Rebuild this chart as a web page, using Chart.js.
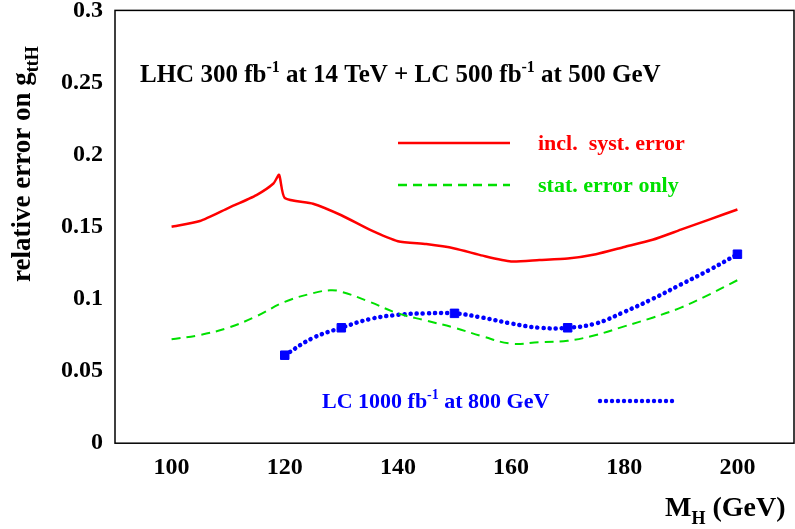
<!DOCTYPE html>
<html><head><meta charset="utf-8">
<script src="https://cdn.jsdelivr.net/npm/chart.js@4/dist/chart.umd.min.js"></script>
<style>body{margin:0;background:#fff;overflow:hidden}#wrap{width:801px;height:545px;margin-top:-16px}</style>
</head><body><div id="wrap"><canvas id="c"></canvas></div>
<script>
const systX = [100,105,110,115,118,119,120,125,130,135,140,145,150,155,160,165,170,175,180,185,190,195,200];
const systY = [0.150,0.154,0.163,0.172,0.180,0.186,0.170,0.166,0.158,0.148,0.140,0.138,0.135,0.130,0.126,0.127,0.128,0.131,0.136,0.141,0.148,0.155,0.162];
const statX = [100,105,110,115,120,125,128,130,135,140,145,150,155,160,165,170,175,180,185,190,195,200];
const statY = [0.072,0.075,0.080,0.088,0.098,0.104,0.106,0.105,0.098,0.090,0.085,0.080,0.074,0.069,0.070,0.071,0.075,0.081,0.087,0.094,0.103,0.113];
const lcX = [120,125,130,135,140,145,150,155,160,165,170,175,180,185,190,195,200];
const lcY = [0.061,0.073,0.080,0.086,0.089,0.090,0.090,0.087,0.083,0.080,0.080,0.083,0.091,0.100,0.110,0.120,0.131];
const markX = [120,130,150,170,200];
const markY = [0.061,0.080,0.090,0.080,0.131];
const xTicks = [100,120,140,160,180,200];
const yTicks = [0,0.05,0.1,0.15,0.2,0.25,0.3];
const pts = (xs, ys) => xs.map((x, i) => ({x, y: ys[i]}));
const F = '"Liberation Serif", serif';

function rich(c, parts, x, y, size) {
  for (const [t, k] of parts) {
    const s = k === 'n' ? size : Math.round(size * 0.65);
    const dy = k === 'sup' ? -size * 0.42 : k === 'sub' ? size * 0.3 : 0;
    c.font = 'bold ' + s + 'px ' + F;
    c.fillText(t, x, y + dy);
    x += c.measureText(t).width;
  }
}

const deco = {
  id: 'deco',
  afterDraw(ch) {
    const c = ch.ctx, a = ch.chartArea;
    c.save();
    c.strokeStyle = '#000'; c.lineWidth = 1.5;
    c.strokeRect(a.left, a.top, a.right - a.left, a.bottom - a.top);
    c.translate(0, 16); // page coordinates below
    c.textBaseline = 'alphabetic'; c.textAlign = 'left';
    c.fillStyle = '#000';
    rich(c, [['LHC 300 fb','n'],['-1','sup'],[' at 14 TeV + LC 500 fb','n'],['-1','sup'],[' at 500 GeV','n']], 140, 82, 25);
    c.lineWidth = 2.5;
    c.strokeStyle = '#ff0000'; c.beginPath(); c.moveTo(398, 143); c.lineTo(510, 143); c.stroke();
    c.strokeStyle = '#00e000'; c.setLineDash([9, 6]); c.beginPath(); c.moveTo(398, 185); c.lineTo(510, 185); c.stroke();
    c.setLineDash([]);
    c.fillStyle = '#0000ff';
    for (let px = 600; px <= 676; px += 6) { c.beginPath(); c.arc(px, 401, 2.2, 0, 7); c.fill(); }
    c.fillStyle = '#ff0000'; rich(c, [['incl.  syst. error','n']], 538, 150, 22);
    c.fillStyle = '#00e000'; rich(c, [['stat. error only','n']], 538, 192, 22);
    c.fillStyle = '#0000ff';
    rich(c, [['LC 1000 fb','n'],['-1','sup'],[' at 800 GeV','n']], 322, 408, 22);
    c.fillStyle = '#000';
    rich(c, [['M','n'],['H','sub'],[' (GeV)','n']], 665, 516, 28);
    c.translate(30, 282); c.rotate(-Math.PI / 2);
    rich(c, [['relative error on g','n'],['ttH','sub']], 0, 0, 27);
    c.restore();
  }
};

new Chart(document.getElementById('c'), {
  type: 'scatter',
  data: { datasets: [
    { data: pts(systX, systY), showLine: true, borderColor: '#ff0000', borderWidth: 2.5, pointRadius: 0, tension: 0.2 },
    { data: pts(statX, statY), showLine: true, borderColor: '#00e000', borderWidth: 2, borderDash: [9, 6], pointRadius: 0, tension: 0.4 },
    { data: pts(lcX, lcY), showLine: true, borderColor: '#0000ff', borderWidth: 4.5, borderDash: [0.1, 6], borderCapStyle: 'round', pointRadius: 0, tension: 0.4 },
    { data: pts(markX, markY), showLine: false, pointStyle: 'rect', pointRadius: 6, backgroundColor: '#0000ff', borderColor: '#0000ff' }
  ]},
  options: {
    responsive: true, maintainAspectRatio: false, animation: false,
    layout: { padding: { left: 0, right: 0, top: 0, bottom: 37 } },
    plugins: { legend: { display: false }, tooltip: { enabled: false } },
    scales: {
      x: { min: 90, max: 210, afterBuildTicks: s => { s.ticks = xTicks.map(v => ({value: v})); },
           grid: { display: false, drawTicks: false }, border: { display: false },
           ticks: { color: '#000', font: { family: F, size: 24, weight: 'bold' }, padding: 10 } },
      y: { min: 0, max: 0.3, afterBuildTicks: s => { s.ticks = yTicks.map(v => ({value: v})); },
           afterFit: s => { s.width = 115; },
           grid: { display: false, drawTicks: false }, border: { display: false },
           ticks: { color: '#000', font: { family: F, size: 24, weight: 'bold' }, padding: 12, callback: v => String(v) } }
    }
  },
  plugins: [deco]
});
</script></body></html>
